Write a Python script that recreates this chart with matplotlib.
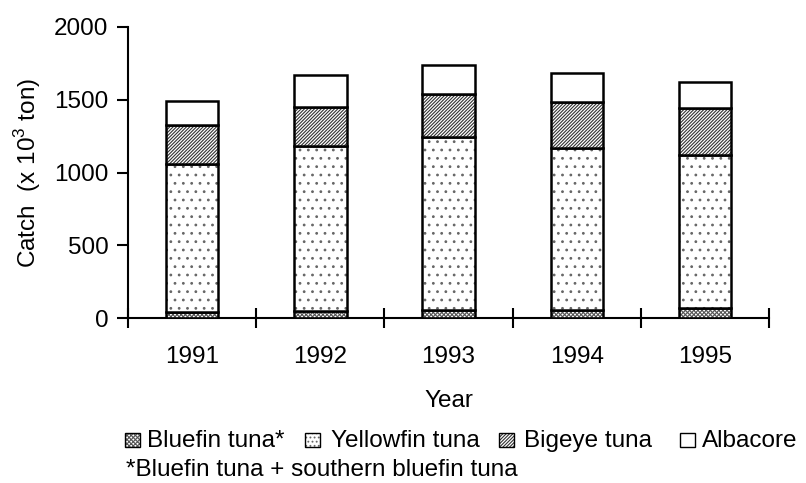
import matplotlib
matplotlib.use("Agg")
import matplotlib.pyplot as plt
import numpy as np
from matplotlib.patches import Rectangle

plt.rcParams['font.family'] = ['Liberation Sans', 'DejaVu Sans']
plt.rcParams['mathtext.fontset'] = 'custom'
plt.rcParams['mathtext.rm'] = 'Liberation Sans'
plt.rcParams['hatch.linewidth'] = 0.8

years = ['1991', '1992', '1993', '1994', '1995']
bluefin = [40, 45, 55, 55, 70]
yellowfin = [1018, 1139, 1187, 1113, 1048]
bigeye = [268, 263, 299, 319, 325]
albacore = [163, 225, 198, 195, 179]

series_names = ['Bluefin tuna*', 'Yellowfin tuna', 'Bigeye tuna', 'Albacore']
series = [bluefin, yellowfin, bigeye, albacore]
hatches = ['xxxxxxxx', '..', '//////////', '']
legend_hatches = ['xxxxxxxx', '....', '//////////', '']
hatch_colors = ['#555555', '#666666', '#333333', 'black']

FS = 17.5
W, H = 806, 483

fig = plt.figure(figsize=(8.06, 4.83), dpi=100)
ax = fig.add_axes([0.1588, 0.3416, 0.7955, 0.6025])

x = np.arange(len(years))
bottom = np.zeros(len(years))
for name, vals, h, hc in zip(series_names, series, hatches, hatch_colors):
    vals = np.array(vals, dtype=float)
    bars = ax.bar(x, vals, width=0.41, bottom=bottom, facecolor='white',
                  edgecolor='black', linewidth=1.8, hatch=h, zorder=3)
    for b in bars:
        b._hatch_color = matplotlib.colors.to_rgba(hc)
    bottom += vals

ax.set_xlim(-0.5, len(years) - 0.5)
ax.set_ylim(0, 2000)
ax.set_yticks([0, 500, 1000, 1500, 2000])
ax.set_xticks(x)
ax.set_xticklabels(years)
ax.set_xticks(np.arange(-0.5, len(years)), minor=True)
ax.tick_params(axis='x', which='major', length=0, pad=20, labelsize=FS)
ax.tick_params(axis='x', which='minor', direction='inout', length=15, width=1.5)
ax.tick_params(axis='y', direction='out', length=8, width=1.5, labelsize=FS, pad=6)
for s in ['top', 'right']:
    ax.spines[s].set_visible(False)
for s in ['left', 'bottom']:
    ax.spines[s].set_linewidth(1.5)

ax.set_ylabel('Catch  (x 10$^3$ ton)', fontsize=FS, labelpad=8)
ax.set_xlabel('Year', fontsize=FS, labelpad=16)

# manual legend (pixel positions measured from reference)
handle_x = [125, 305, 499, 680]
text_x = [147, 331, 524, 702]
for name, h, hc, hx, tx in zip(series_names, legend_hatches, hatch_colors, handle_x, text_x):
    r = Rectangle((hx / W, 1 - 447 / H), 15 / W, 14 / H, transform=fig.transFigure,
                  facecolor='white', edgecolor='black', linewidth=1.0, hatch=h)
    r._hatch_color = matplotlib.colors.to_rgba(hc)
    fig.add_artist(r)
    fig.text(tx / W, 1 - 447 / H, name, fontsize=FS, va='baseline', ha='left')

fig.text(126 / W, 1 - 476 / H, '*Bluefin tuna + southern bluefin tuna',
         fontsize=FS, va='baseline', ha='left')

fig.savefig('out.png', dpi=100)
